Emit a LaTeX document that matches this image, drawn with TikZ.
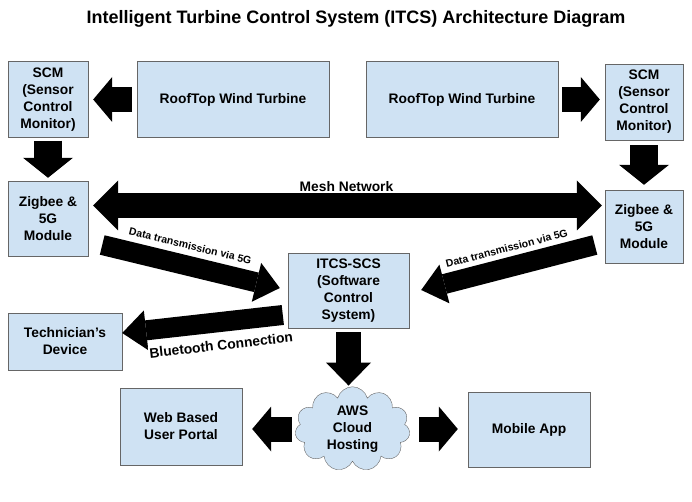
\documentclass[tikz,border=0pt]{standalone}
\usepackage{fontspec}
\setmainfont{Liberation Sans}
\usepackage{xcolor}
\usetikzlibrary{arrows.meta, positioning, calc, shapes.symbols}
\definecolor{boxblue}{HTML}{CFE2F3}
\definecolor{boxline}{HTML}{666666}

\begin{document}
\begin{tikzpicture}[x=1pt, y=-1pt,
    box/.style={draw=boxline, fill=boxblue, align=center, inner sep=2pt,
        font=\fontsize{13.8}{17}\selectfont\bfseries},
    bigarrow/.style={line width=25pt, -{Triangle[length=19pt, width=45pt, line width=0pt]}},
    slimarrow/.style={line width=20pt, -{Triangle[length=24pt, width=40pt, line width=0pt]}},
    lbl/.style={font=\fontsize{10.5}{12}\selectfont\bfseries, inner sep=1pt, fill=white}]
    \useasboundingbox (0,0) rectangle (692,502);

    \node[font=\fontsize{18}{21}\selectfont\bfseries] (title) at (356,19)
        {Intelligent Turbine Control System (ITCS) Architecture Diagram};

    % left side
    \node[box, minimum width=80pt, minimum height=76pt] (scml) at (48,99.5) {SCM\\(Sensor\\Control\\Monitor)};
    \node[box, minimum width=192pt, minimum height=76pt] (rtl) at (233,99.5) {RoofTop Wind Turbine};
    \node[box, minimum width=80pt, minimum height=75pt] (zigl) at (48,218.5) {Zigbee \&\\5G\\Module};
    % right side
    \node[box, minimum width=192pt, minimum height=76pt] (rtr) at (462,99.5) {RoofTop Wind Turbine};
    \node[box, minimum width=78pt, minimum height=76pt] (scmr) at (644,102) {SCM\\(Sensor\\Control\\Monitor)};
    \node[box, minimum width=78pt, minimum height=73pt] (zigr) at (644,226.5) {Zigbee \&\\5G\\Module};
    % middle and bottom
    \node[box, minimum width=121pt, minimum height=75pt] (itcs) at (348.5,290.5) {ITCS-SCS\\(Software\\Control\\System)};
    \node[box, minimum width=114pt, minimum height=57pt] (tech) at (65,341.5) {Technician’s\\Device};
    \node[box, draw=boxline, cloud, cloud puffs=11, aspect=1.5, minimum width=115pt, minimum height=76pt,
        inner sep=0pt] (cloud) at (352.5,429) {AWS\\Cloud\\Hosting};
    \node[box, minimum width=122pt, minimum height=77pt] (web) at (181,426.5) {Web Based\\User Portal};
    \node[box, minimum width=122pt, minimum height=75pt] (mob) at (529,429.5) {Mobile App};

    % block arrows
    \draw[bigarrow, shorten <=5pt, shorten >=5pt] (rtl.west) -- (scml.east);
    \draw[bigarrow, shorten <=4pt, shorten >=5pt] (rtr.east) -- (rtr.east -| scmr.west);
    \draw[bigarrow, line width=28pt, -{Triangle[length=20pt, width=50pt, line width=0pt]},
        shorten <=3pt, shorten >=3pt] (scml.south) -- (zigl.north);
    \draw[bigarrow, line width=28pt, -{Triangle[length=20pt, width=50pt, line width=0pt]},
        shorten <=5pt, shorten >=5pt] (scmr.south) -- (zigr.north);
    \draw[line width=25pt, {Triangle[length=25pt, width=50pt, line width=0pt]}-{Triangle[length=25pt, width=50pt, line width=0pt]},
        shorten <=5pt, shorten >=3pt] ([yshift=13pt]zigl.east) -- ([yshift=13pt]zigl.east -| zigr.west)
        node[midway, above=0pt, inner sep=1pt, font=\fontsize{13.8}{15}\selectfont\bfseries] {Mesh Network};

    \draw[slimarrow] ($(zigl.east)+(14,26.5)$) -- ($(itcs.west)+(-8,-2.5)$)
        node[lbl, pos=0.47, sloped, above=5pt] {Data transmission via 5G};
    \draw[slimarrow] ($(zigr.west)+(-10,18.5)$) -- ($(itcs.east)+(12,-0.5)$)
        node[lbl, pos=0.48, sloped, above=4pt] {Data transmission via 5G};
    \draw[slimarrow] ($(itcs.west)+(-5,24.5)$) -- ($(tech.east)+(0,-8.5)$)
        node[lbl, pos=0.4, sloped, below=7pt, font=\fontsize{13.8}{15}\selectfont\bfseries] {Bluetooth Connection};

    \draw[bigarrow, -{Triangle[length=23pt, width=45pt, line width=0pt]}, shorten <=4pt, shorten >=1pt]
        (itcs.south) -- (itcs.south |- cloud.north);
    \draw[bigarrow, -{Triangle[length=19pt, width=45pt, line width=0pt]}, shorten <=4pt, shorten >=10pt]
        (cloud.west) -- (cloud.west -| web.east);
    \draw[bigarrow, -{Triangle[length=19pt, width=45pt, line width=0pt]}, shorten <=10pt, shorten >=10pt]
        (cloud.east) -- (cloud.east -| mob.west);
\end{tikzpicture}
\end{document}
